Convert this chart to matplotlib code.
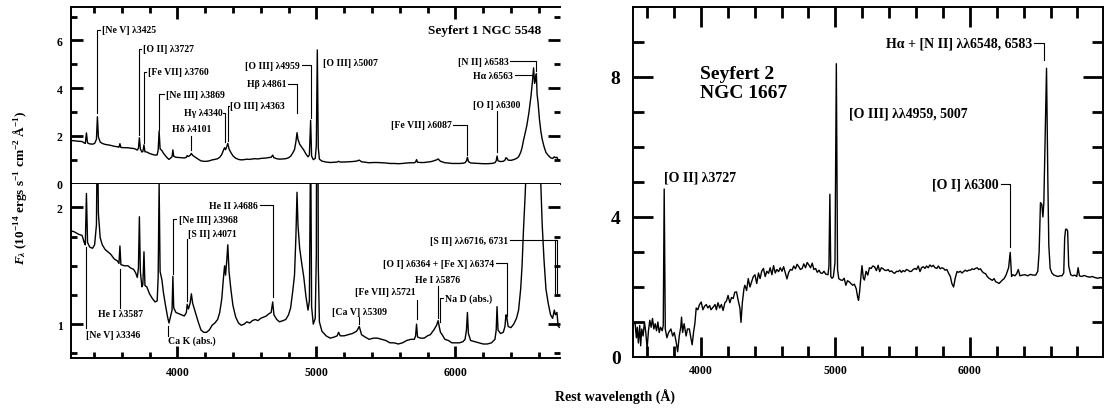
import matplotlib
matplotlib.use("Agg")
import matplotlib.pyplot as plt
from matplotlib.transforms import blended_transform_factory

plt.rcParams['font.family'] = ['Liberation Serif', 'DejaVu Serif']
plt.rcParams['font.weight'] = 'bold'
plt.rcParams['mathtext.fontset'] = 'custom'
plt.rcParams['mathtext.rm'] = 'Liberation Serif:bold'
plt.rcParams['mathtext.it'] = 'Liberation Serif:italic:bold'
plt.rcParams['mathtext.bf'] = 'Liberation Serif:bold'

# Seyfert 1 NGC 5548 (rest wavelength in A, flux in 1e-14 erg/s/cm2/A)
wl1 = [3235, 3260, 3290, 3315, 3330, 3338, 3346, 3354, 3370, 3390, 3405, 3418,
       3425, 3432, 3445, 3460, 3480, 3500, 3520, 3545, 3570, 3580, 3587, 3594,
       3620, 3645, 3665, 3685, 3700, 3712, 3720, 3727, 3734, 3745, 3752, 3760,
       3767, 3780, 3800, 3820, 3840, 3855, 3862, 3869, 3876, 3889, 3900, 3915,
       3930, 3940, 3950, 3962, 3968, 3974, 3990, 4010, 4030, 4050, 4065, 4071,
       4080, 4092, 4101, 4110, 4130, 4150, 4170, 4190, 4210, 4230, 4250, 4270,
       4290, 4305, 4320, 4332, 4340, 4347, 4356, 4363, 4372, 4385, 4400, 4420,
       4440, 4460, 4480, 4500, 4520, 4540, 4560, 4580, 4600, 4620, 4640, 4660,
       4675, 4686, 4695, 4715, 4735, 4760, 4780, 4800, 4815, 4830, 4843, 4853,
       4861, 4868, 4880, 4895, 4910, 4925, 4940, 4950, 4959, 4966, 4978, 4992,
       5000, 5007, 5014, 5022, 5040, 5070, 5100, 5130, 5150, 5160, 5172, 5200,
       5230, 5260, 5290, 5309, 5325, 5350, 5380, 5410, 5440, 5470, 5500, 5530,
       5560, 5590, 5620, 5650, 5680, 5705, 5714, 5721, 5728, 5750, 5775, 5800,
       5820, 5845, 5865, 5876, 5884, 5893, 5905, 5925, 5950, 5975, 6000, 6030,
       6055, 6070, 6080, 6087, 6094, 6110, 6140, 6170, 6200, 6230, 6260, 6285,
       6294, 6300, 6307, 6325, 6345, 6357, 6364, 6370, 6380, 6400, 6420, 6440,
       6455, 6470, 6480, 6490, 6500, 6515, 6530, 6545, 6555, 6563, 6570, 6577,
       6583, 6588, 6595, 6605, 6615, 6625, 6638, 6652, 6668, 6685, 6700, 6712,
       6720, 6731, 6740, 6755]
flux1 = [1.80, 1.79, 1.77, 1.76, 1.70, 1.68, 2.12, 1.70, 1.66, 1.65, 1.68, 1.85,
         2.80, 1.95, 1.74, 1.68, 1.64, 1.62, 1.60, 1.56, 1.54, 1.52, 1.67, 1.51,
         1.50, 1.50, 1.48, 1.47, 1.44, 1.40, 1.48, 1.92, 1.45, 1.32, 1.34, 1.62,
         1.33, 1.32, 1.26, 1.22, 1.19, 1.20, 1.40, 2.20, 1.45, 1.38, 1.27, 1.16,
         1.06, 1.01, 1.06, 1.12, 1.41, 1.14, 1.10, 1.09, 1.08, 1.07, 1.10, 1.17,
         1.13, 1.18, 1.26, 1.18, 1.10, 1.02, 0.95, 0.93, 0.93, 0.95, 0.99, 1.01,
         1.04, 1.10, 1.22, 1.40, 1.50, 1.42, 1.55, 1.68, 1.45, 1.30, 1.16, 1.06,
         1.01, 0.99, 1.00, 1.02, 1.01, 1.03, 1.04, 1.03, 1.05, 1.06, 1.07, 1.09,
         1.10, 1.19, 1.08, 1.04, 1.02, 1.03, 1.04, 1.08, 1.14, 1.28, 1.42, 1.75,
         2.13, 1.85, 1.65, 1.52, 1.40, 1.24, 1.12, 1.20, 2.65, 1.15, 1.00, 1.05,
         1.60, 5.60, 1.50, 1.02, 0.94, 0.90, 0.88, 0.89, 0.90, 0.93, 0.90, 0.90,
         0.91, 0.92, 0.94, 0.98, 0.91, 0.89, 0.87, 0.88, 0.88, 0.87, 0.86, 0.84,
         0.84, 0.83, 0.84, 0.86, 0.87, 0.87, 0.90, 1.00, 0.89, 0.88, 0.88, 0.90,
         0.91, 0.95, 0.99, 1.03, 0.98, 0.93, 0.91, 0.87, 0.86, 0.84, 0.84, 0.84,
         0.85, 0.87, 0.95, 1.10, 0.92, 0.86, 0.85, 0.84, 0.83, 0.83, 0.84, 0.87,
         0.95, 1.15, 0.95, 0.92, 0.93, 0.98, 1.08, 1.06, 0.98, 0.97, 1.00, 1.05,
         1.12, 1.30, 1.50, 1.80, 2.05, 2.45, 3.00, 3.70, 4.30, 4.85, 4.20, 4.40,
         4.60, 3.75, 3.40, 2.70, 2.20, 1.85, 1.55, 1.30, 1.18, 1.08, 1.05, 1.12,
         1.08, 1.10, 0.98, 0.97]

# Seyfert 2 NGC 1667
wl2 = [3500, 3510, 3520, 3527, 3535, 3545, 3552, 3560, 3570, 3580, 3590, 3600,
       3610, 3620, 3630, 3640, 3650, 3660, 3670, 3680, 3690, 3700, 3712, 3720,
       3727, 3735, 3747, 3760, 3777, 3790, 3802, 3815, 3827, 3839, 3850, 3856,
       3864, 3875, 3890, 3900, 3914, 3925, 3935, 3945, 3955, 3965, 3977, 3990,
       4002, 4015, 4027, 4040, 4052, 4065, 4075, 4090, 4105, 4115, 4127, 4140,
       4152, 4165, 4178, 4190, 4202, 4215, 4228, 4240, 4252, 4265, 4278, 4290,
       4298, 4308, 4320, 4327, 4340, 4352, 4365, 4377, 4390, 4402, 4415, 4428,
       4440, 4452, 4465, 4478, 4490, 4503, 4515, 4528, 4540, 4553, 4565, 4578,
       4590, 4603, 4615, 4628, 4640, 4653, 4665, 4678, 4690, 4703, 4715, 4728,
       4740, 4753, 4765, 4778, 4790, 4803, 4815, 4828, 4840, 4853, 4865, 4878,
       4890, 4903, 4915, 4928, 4945, 4952, 4959, 4966, 4975, 4985, 4997, 5007,
       5016, 5025, 5040, 5053, 5065, 5078, 5090, 5103, 5115, 5128, 5141, 5155,
       5166, 5172, 5180, 5190, 5198, 5208, 5216, 5228, 5241, 5253, 5266, 5278,
       5291, 5305, 5318, 5329, 5342, 5355, 5366, 5380, 5392, 5404, 5418, 5430,
       5441, 5455, 5467, 5479, 5491, 5503, 5516, 5528, 5541, 5554, 5566, 5578,
       5591, 5603, 5616, 5629, 5641, 5654, 5666, 5678, 5690, 5703, 5716, 5728,
       5741, 5754, 5766, 5779, 5791, 5804, 5816, 5829, 5842, 5855, 5866, 5879,
       5891, 5904, 5916, 5929, 5941, 5954, 5966, 5979, 5991, 6004, 6016, 6029,
       6041, 6054, 6066, 6079, 6092, 6104, 6117, 6129, 6142, 6154, 6167, 6180,
       6192, 6205, 6217, 6230, 6242, 6255, 6270, 6288, 6300, 6310, 6320, 6335,
       6348, 6360, 6372, 6390, 6410, 6430, 6450, 6470, 6490, 6505, 6515, 6525,
       6535, 6543, 6550, 6558, 6570, 6580, 6587, 6597, 6610, 6625, 6640, 6655,
       6670, 6685, 6698, 6705, 6712, 6720, 6727, 6735, 6750, 6765, 6780, 6795,
       6805, 6815, 6830, 6850, 6870, 6890, 6910, 6930, 6950, 6970, 6990]
flux2 = [0.95, 0.99, 0.55, 0.85, 0.40, 0.90, 0.32, 0.80, 0.60, 1.00, 0.70, 0.25,
         0.75, 1.05, 0.85, 1.10, 0.80, 0.95, 0.75, 1.00, 0.70, 0.85, 0.75, 0.90,
         4.80, 0.80, 0.55, 0.70, 0.80, 0.60, 0.70, 0.45, 0.15, 0.60, 0.85, 1.14,
         0.70, 0.95, 0.60, 0.80, 0.80, 0.55, 0.35, 0.70, 0.95, 1.40, 1.35, 1.50,
         1.57, 1.35, 1.45, 1.50, 1.40, 1.47, 1.35, 1.42, 1.50, 1.35, 1.55, 1.40,
         1.50, 1.33, 1.55, 1.60, 1.76, 1.55, 1.70, 1.67, 1.85, 1.86, 1.60, 1.40,
         0.99, 1.55, 1.95, 2.05, 1.90, 2.24, 2.00, 2.15, 2.30, 2.35, 2.10, 2.40,
         2.24, 2.45, 2.53, 2.30, 2.45, 2.39, 2.55, 2.35, 2.61, 2.40, 2.50, 2.44,
         2.55, 2.45, 2.58, 2.40, 2.23, 2.42, 2.50, 2.48, 2.60, 2.52, 2.65, 2.58,
         2.50, 2.53, 2.66, 2.55, 2.70, 2.63, 2.55, 2.68, 2.50, 2.53, 2.42, 2.48,
         2.40, 2.39, 2.45, 2.37, 2.35, 2.60, 4.65, 2.30, 2.25, 2.29, 2.70, 8.38,
         2.50, 2.24, 2.20, 2.19, 2.25, 2.05, 2.18, 2.15, 2.10, 2.05, 2.08, 1.95,
         1.70, 1.62, 1.86, 2.30, 2.61, 2.25, 2.20, 2.45, 2.34, 2.55, 2.53, 2.60,
         2.58, 2.47, 2.62, 2.44, 2.55, 2.52, 2.48, 2.47, 2.50, 2.44, 2.46, 2.41,
         2.39, 2.45, 2.44, 2.48, 2.42, 2.47, 2.44, 2.50, 2.48, 2.44, 2.45, 2.50,
         2.53, 2.50, 2.60, 2.44, 2.55, 2.58, 2.53, 2.60, 2.55, 2.63, 2.58, 2.62,
         2.55, 2.53, 2.60, 2.52, 2.55, 2.53, 2.48, 2.50, 2.39, 2.30, 2.10, 2.00,
         2.25, 2.44, 2.42, 2.45, 2.40, 2.44, 2.48, 2.45, 2.48, 2.48, 2.52, 2.50,
         2.53, 2.55, 2.50, 2.52, 2.44, 2.40, 2.38, 2.30, 2.25, 2.22, 2.19, 2.24,
         2.15, 2.13, 2.10, 2.15, 2.20, 2.24, 2.35, 2.55, 2.99, 2.30, 2.35, 2.32,
         2.38, 2.50, 2.32, 2.34, 2.35, 2.32, 2.36, 2.34, 2.34, 2.45, 3.00, 4.41,
         4.36, 4.00, 4.40, 6.00, 8.25, 5.00, 3.20, 2.53, 2.40, 2.34, 2.32, 2.30,
         2.32, 2.32, 2.40, 3.40, 3.65, 3.65, 3.60, 2.60, 2.35, 2.32, 2.34, 2.30,
         2.55, 2.32, 2.30, 2.33, 2.30, 2.28, 2.30, 2.27, 2.25, 2.27, 2.25]

# tick positions
xmaj = [4000, 5000, 6000]
xmin_left = list(range(3400, 6800, 200))
xmin_right = list(range(3600, 7000, 200))

W, H = 1108, 410
fig = plt.figure(figsize=(W / 100, H / 100), dpi=100)


def box(x0, y0, x1, y1):
    return [x0 / W, 1 - y1 / H, (x1 - x0) / W, (y1 - y0) / H]


def inward_ticks(ax, axis, locs, length_px, sides, lw=2.0):
    # inward tick marks of a fixed pixel length
    bb = ax.get_position()
    if axis == 'x':
        frac = length_px / (bb.height * H)
        tr = blended_transform_factory(ax.transData, ax.transAxes)
        for v in locs:
            for s in sides:
                y0 = 0 if s == 'bottom' else 1
                y1 = y0 + frac if s == 'bottom' else y0 - frac
                ax.plot([v, v], [y0, y1], color='k', lw=lw, transform=tr,
                        clip_on=False, solid_capstyle='butt', zorder=5)
    else:
        frac = length_px / (bb.width * W)
        tr = blended_transform_factory(ax.transAxes, ax.transData)
        for v in locs:
            for s in sides:
                x0 = 0 if s == 'left' else 1
                x1 = x0 + frac if s == 'left' else x0 - frac
                ax.plot([x0, x1], [v, v], color='k', lw=lw, transform=tr,
                        clip_on=False, solid_capstyle='butt', zorder=5)


def bracket(ax, text, xt, yt, xl, yend, ha='left', gap=15, fs=7):
    # label with a horizontal connector and a vertical leg down to the line
    ax.text(xt, yt, text, ha=ha, va='center', fontsize=fs)
    xe = xt + gap if ha == 'right' else xt - gap
    ax.plot([xe, xl, xl], [yt, yt, yend], color='k', lw=0.8)


def leg(ax, text, xt, yt, xl, y0, y1, ha='center', fs=7):
    ax.text(xt, yt, text, ha=ha, va='center', fontsize=fs)
    ax.plot([xl, xl], [y0, y1], color='k', lw=0.8)


# ---- left: Seyfert 1, upper panel
ax1 = fig.add_axes(box(71, 8, 560, 184.5))
ax1.plot(wl1, flux1, color='k', lw=1.0)
ax1.set_xlim(3235, 6753)
ax1.set_ylim(0, 7.4)
ax1.set_xticks([])
ax1.set_yticks([0, 2, 4, 6])
ax1.tick_params(axis='y', length=0, labelsize=8.5, pad=6)
for s in ax1.spines.values():
    s.set_linewidth(1.4)
ax1.spines['right'].set_visible(False)
inward_ticks(ax1, 'x', xmaj, 12, ['top'])
inward_ticks(ax1, 'x', [v for v in xmin_left if v % 1000], 6, ['top'])
inward_ticks(ax1, 'y', [2, 4, 6], 12, ['left', 'right'])
inward_ticks(ax1, 'y', [1, 3, 5, 7], 6, ['left', 'right'])

bracket(ax1, '[Ne V] λ3425', 3458, 6.45, 3425, 2.95)
bracket(ax1, '[O II] λ3727', 3755, 5.66, 3727, 2.05)
bracket(ax1, '[Fe VII] λ3760', 3790, 4.68, 3760, 1.68)
bracket(ax1, '[Ne III] λ3869', 3918, 3.74, 3869, 2.25, gap=12)
leg(ax1, 'Hδ λ4101', 4101, 2.29, 4101, 1.98, 1.40)
bracket(ax1, 'Hγ λ4340', 4326, 2.97, 4340, 1.75, ha='right', gap=6)
bracket(ax1, '[O III] λ4363', 4378, 3.25, 4363, 1.78, gap=8)
bracket(ax1, '[O III] λ4959', 4882, 4.96, 4959, 2.75, ha='right', gap=12)
bracket(ax1, 'Hβ λ4861', 4787, 4.19, 4861, 2.95, ha='right', gap=12)
ax1.text(5046, 5.07, '[O III] λ5007', ha='left', va='center', fontsize=7)
ax1.text(6621, 6.45, 'Seyfert 1 NGC 5548', ha='right', va='center', fontsize=9.5)
bracket(ax1, '[N II] λ6583', 6381, 5.13, 6583, 4.70, ha='right', gap=12)
bracket(ax1, 'Hα λ6563', 6417, 4.54, 6552, 4.54, ha='right', gap=12)
leg(ax1, '[O I] λ6300', 6300, 3.30, 6300, 3.05, 1.30)
bracket(ax1, '[Fe VII] λ6087', 5974, 2.46, 6087, 1.20, ha='right', gap=12)

# ---- left: Seyfert 1, lower (expanded) panel
ax2 = fig.add_axes(box(71, 184.5, 560, 359))
ax2.plot(wl1, flux1, color='k', lw=1.0)
ax2.set_xlim(3235, 6753)
ax2.set_ylim(0.71, 2.205)
ax2.set_xticks(xmaj)
ax2.set_yticks([1, 2])
ax2.tick_params(axis='both', length=0, labelsize=8.5)
ax2.tick_params(axis='x', pad=6)
ax2.tick_params(axis='y', pad=6)
for s in ax2.spines.values():
    s.set_linewidth(1.4)
ax2.spines['right'].set_visible(False)
ax2.spines['top'].set_visible(False)
inward_ticks(ax2, 'x', xmaj, 12, ['bottom'])
inward_ticks(ax2, 'x', [v for v in xmin_left if v % 1000], 6, ['bottom'])
inward_ticks(ax2, 'y', [1, 2], 12, ['left', 'right'])
inward_ticks(ax2, 'y', [0.75, 1.25, 1.5, 1.75], 6, ['left', 'right'])

bracket(ax2, 'He II λ4686', 4582, 2.02, 4686, 1.23, ha='right', gap=12)
bracket(ax2, '[Ne III] λ3968', 4012, 1.90, 3968, 1.43, gap=20)
leg(ax2, '[S II] λ4071', 4076, 1.775, 4071, 1.73, 1.20, ha='left')
leg(ax2, 'He I λ3587', 3593, 1.09, 3587, 1.47, 1.14)
leg(ax2, '[Ne V] λ3346', 3346, 0.915, 3346, 1.66, 0.97, ha='left')
leg(ax2, 'Ca K (abs.)', 3935, 0.86, 3935, 0.985, 0.895, ha='left')
bracket(ax2, '[S II] λλ6716, 6731', 6381, 1.72, 6731, 1.27, ha='right', gap=12)
ax2.plot([6716, 6716], [1.72, 1.27], color='k', lw=0.8)
ax2.plot([6716, 6731], [1.72, 1.72], color='k', lw=0.8)
bracket(ax2, '[O I] λ6364 + [Fe X] λ6374', 6278, 1.52, 6374, 1.07, ha='right', gap=12)
leg(ax2, 'He I λ5876', 5872, 1.385, 5876, 1.33, 1.05)
bracket(ax2, 'Na D (abs.)', 5926, 1.22, 5893, 1.02, gap=12)
leg(ax2, '[Fe VII] λ5721', 5712, 1.28, 5721, 1.21, 1.04, ha='right')
leg(ax2, '[Ca V] λ5309', 5314, 1.11, 5309, 1.06, 1.00)

# ---- right: Seyfert 2
ax3 = fig.add_axes(box(633, 8, 1103, 358))
ax3.plot(wl2, flux2, color='k', lw=1.0)
ax3.set_xlim(3495, 6990)
ax3.set_ylim(0, 10)
ax3.set_xticks(xmaj)
ax3.set_yticks([0, 4, 8])
ax3.tick_params(axis='x', length=0, labelsize=8.5, pad=5)
ax3.tick_params(axis='y', length=0, labelsize=14, pad=9)
for s in ax3.spines.values():
    s.set_linewidth(1.4)
inward_ticks(ax3, 'x', xmaj, 20, ['bottom', 'top'])
inward_ticks(ax3, 'x', [v for v in xmin_right if v % 1000], 11, ['bottom', 'top'])
inward_ticks(ax3, 'y', [4, 8], 20, ['left', 'right'])
inward_ticks(ax3, 'y', [1, 2, 3, 5, 6, 7, 9], 11, ['left', 'right'])

ax3.text(3727, 5.15, '[O II] λ3727', ha='left', va='center', fontsize=10)
ax3.text(5103, 6.96, '[O III] λλ4959, 5007', ha='left', va='center', fontsize=10)
bracket(ax3, '[O I] λ6300', 6217, 4.94, 6300, 3.15, ha='right', gap=15, fs=10)
bracket(ax3, 'Hα + [N II] λλ6548, 6583', 6463, 8.98, 6552, 8.5, ha='right', gap=15, fs=10)
ax3.text(3994, 7.83, 'Seyfert 2\nNGC 1667', ha='left', va='center',
         fontsize=14, linespacing=1.15)

fig.text(20 / W, 1 - 188 / H,
         r'$F_\lambda$ (10$^{-14}$ ergs s$^{-1}$ cm$^{-2}$ Å$^{-1}$)',
         rotation=90, ha='center', va='center', fontsize=9.5)
fig.text(615 / W, 1 - 397 / H, 'Rest wavelength (Å)', ha='center', va='center',
         fontsize=10)

fig.savefig('out.png', dpi=100, facecolor='white')
